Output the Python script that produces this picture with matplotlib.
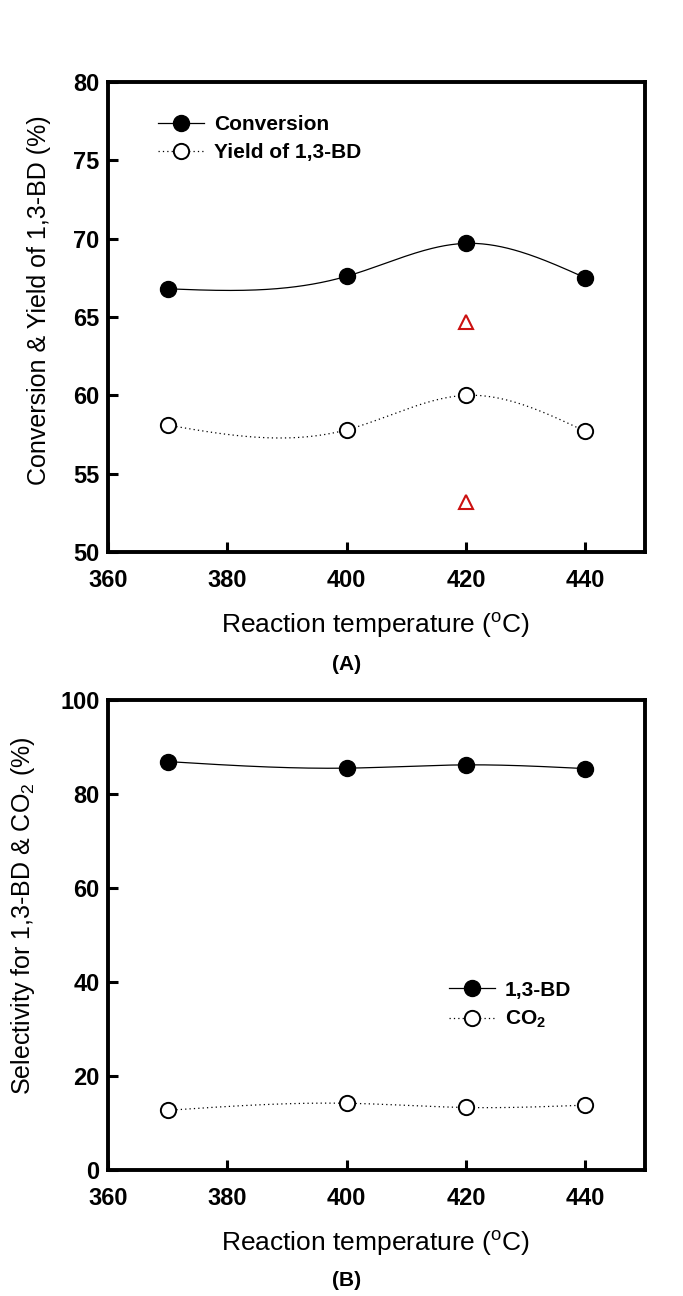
import numpy as np
import matplotlib
matplotlib.use('Agg')
import matplotlib.pyplot as plt

plt.rcParams['font.family'] = ['Liberation Sans', 'DejaVu Sans']
plt.rcParams['mathtext.fontset'] = 'custom'
plt.rcParams['mathtext.rm'] = 'Liberation Sans'
plt.rcParams['mathtext.it'] = 'Liberation Sans:italic'
plt.rcParams['mathtext.bf'] = 'Liberation Sans:bold'

# data
temps = [370, 400, 420, 440]
conversion = [66.8, 67.6, 69.7, 67.5]
yield_bd = [58.1, 57.8, 60.0, 57.7]
extra_t = [420, 420]
extra_val = [64.7, 53.2]

sel_bd = [86.9, 85.5, 86.2, 85.4]
sel_co2 = [12.7, 14.2, 13.3, 13.8]

xticks = [360, 380, 400, 420, 440]
yticks_a = [50, 55, 60, 65, 70, 75, 80]
yticks_b = [0, 20, 40, 60, 80, 100]


def natural_spline(x, y, n=200):
    # smooth curve through the points, like the original plotting program
    x = np.asarray(x, float)
    y = np.asarray(y, float)
    k = len(x)
    h = np.diff(x)
    A = np.zeros((k, k))
    b = np.zeros(k)
    A[0, 0] = 1
    A[-1, -1] = 1
    for i in range(1, k - 1):
        A[i, i - 1] = h[i - 1]
        A[i, i] = 2 * (h[i - 1] + h[i])
        A[i, i + 1] = h[i]
        b[i] = 6 * ((y[i + 1] - y[i]) / h[i] - (y[i] - y[i - 1]) / h[i - 1])
    m = np.linalg.solve(A, b)
    xs = np.linspace(x[0], x[-1], n)
    ys = np.empty_like(xs)
    for j, xv in enumerate(xs):
        i = min(np.searchsorted(x, xv) - 1, k - 2)
        i = max(i, 0)
        t1 = x[i + 1] - xv
        t0 = xv - x[i]
        ys[j] = (m[i] * t1 ** 3 + m[i + 1] * t0 ** 3) / (6 * h[i]) \
            + (y[i] / h[i] - m[i] * h[i] / 6) * t1 \
            + (y[i + 1] / h[i] - m[i + 1] * h[i] / 6) * t0
    return xs, ys


W, H = 683, 1296
fig = plt.figure(figsize=(W / 100, H / 100), dpi=100)

left = 108 / W
width = (645 - 108) / W
ax1 = fig.add_axes([left, 1 - 552 / H, width, 470 / H])
ax2 = fig.add_axes([left, 1 - 1170 / H, width, 470 / H])

tick_font = dict(family=['Liberation Sans Narrow', 'Liberation Sans'], weight='bold', size=17)


def style_axes(ax, yticks):
    ax.set_xlim(360, 450)
    ax.set_ylim(yticks[0], yticks[-1])
    ax.set_xticks(xticks)
    ax.set_yticks(yticks)
    ax.set_xticklabels([str(t) for t in xticks], fontdict=tick_font)
    ax.set_yticklabels([str(t) for t in yticks], fontdict=tick_font)
    ax.tick_params(direction='in', length=7, width=2.2)
    ax.tick_params(axis='x', pad=12)
    ax.tick_params(axis='y', pad=6)
    for s in ax.spines.values():
        s.set_linewidth(2.8)


leg_kw = dict(frameon=False, prop=dict(weight='bold', size=15), handlelength=2.2,
              handletextpad=0.5, labelspacing=0.45, borderpad=0)

# (A)
xs, ys = natural_spline(temps, conversion)
ax1.plot(xs, ys, color='black', lw=0.9)
xs, ys = natural_spline(temps, yield_bd)
ax1.plot(xs, ys, color='black', lw=0.9, linestyle=(0, (1, 2.5)))
ax1.plot(temps, conversion, 'o', color='black', ms=11.5, zorder=3)
ax1.plot(temps, yield_bd, 'o', mfc='white', mec='black', mew=1.4, ms=11, zorder=3)
ax1.plot(extra_t, extra_val, '^', mfc='none', mec='#cc1111', mew=1.5, ms=10.5, zorder=3)
ax1.plot([], [], '-o', color='black', lw=0.9, ms=11.5, label='Conversion')
ax1.plot([], [], 'o', mfc='white', mec='black', mew=1.4, ms=11, color='black',
         lw=0.9, linestyle=(0, (1, 2.5)), label='Yield of 1,3-BD')
style_axes(ax1, yticks_a)
ax1.legend(loc='upper left', bbox_to_anchor=(0.074, 0.952), **leg_kw)

# (B)
xs, ys = natural_spline(temps, sel_bd)
ax2.plot(xs, ys, color='black', lw=0.9)
xs, ys = natural_spline(temps, sel_co2)
ax2.plot(xs, ys, color='black', lw=0.9, linestyle=(0, (1, 2.5)))
ax2.plot(temps, sel_bd, 'o', color='black', ms=11.5, zorder=3)
ax2.plot(temps, sel_co2, 'o', mfc='white', mec='black', mew=1.4, ms=11, zorder=3)
ax2.plot([], [], '-o', color='black', lw=0.9, ms=11.5, label='1,3-BD')
ax2.plot([], [], 'o', mfc='white', mec='black', mew=1.4, ms=11, color='black',
         lw=0.9, linestyle=(0, (1, 2.5)), label='CO$_\\mathbf{2}$')
style_axes(ax2, yticks_b)
ax2.legend(loc='upper left', bbox_to_anchor=(0.615, 0.425), **leg_kw)

# axis labels and panel tags
xlab = 'Reaction temperature ($^{\\mathrm{o}}$C)'
fig.text(376 / W, 1 - 625 / H, xlab, ha='center', va='center', size=19)
fig.text(376 / W, 1 - 1243 / H, xlab, ha='center', va='center', size=19)
fig.text(39 / W, 1 - 300 / H, 'Conversion & Yield of 1,3-BD (%)', rotation=90,
         ha='center', va='center', size=18)
fig.text(23 / W, 1 - 916 / H, 'Selectivity for 1,3-BD & CO$_2$ (%)', rotation=90,
         ha='center', va='center', size=18)
fig.text(347 / W, 1 - 664 / H, '(A)', ha='center', va='center', size=15,
         weight='bold', family=['Liberation Sans Narrow', 'Liberation Sans'])
fig.text(347 / W, 1 - 1280 / H, '(B)', ha='center', va='center', size=15,
         weight='bold', family=['Liberation Sans Narrow', 'Liberation Sans'])

fig.savefig('out.png', dpi=100)
